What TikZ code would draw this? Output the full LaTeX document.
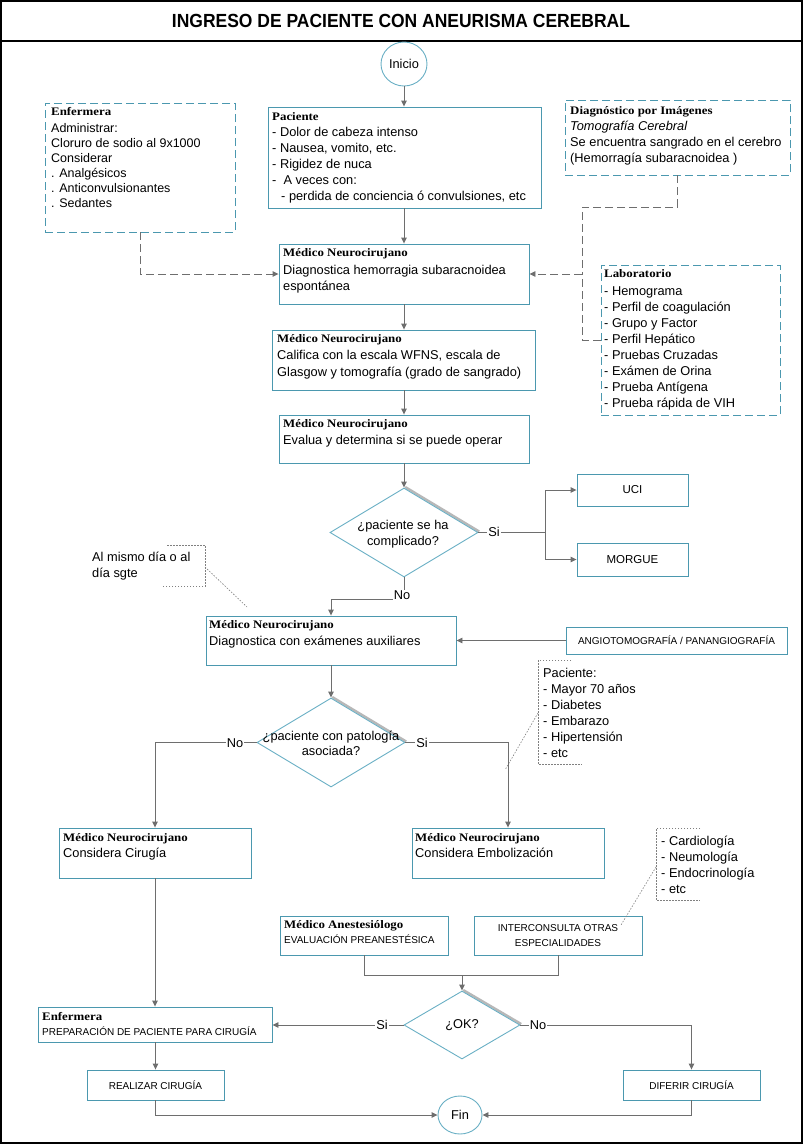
\documentclass[tikz,border=0pt]{standalone}
\usepackage{fontspec}
\setmainfont{Liberation Sans}
\newfontfamily\hdrfont[FakeStretch=1.12]{Liberation Serif}
\newfontfamily\titlefont[FakeStretch=0.92]{Liberation Sans}
\usetikzlibrary{arrows.meta,shapes.geometric,fit,calc}
\definecolor{tealA}{RGB}{75,152,175}
\definecolor{tealB}{RGB}{105,175,196}
\definecolor{lineG}{RGB}{110,110,110}
\newcommand\hd[1]{{\hdrfont\bfseries\fontsize{11.5}{16}\selectfont #1}}
\begin{document}
\begin{tikzpicture}[x=1pt,y=-1pt,
  box/.style={draw=tealA, line width=0.9pt, inner sep=0pt},
  dbox/.style={draw=tealA, line width=0.9pt, inner sep=0pt, dash pattern=on 8pt off 4pt},
  arr/.style={draw=lineG, line width=0.9pt, -{Triangle[length=6pt,width=5.5pt]}},
  ln/.style={draw=lineG, line width=0.9pt},
  darr/.style={draw=lineG, line width=0.9pt, dash pattern=on 8pt off 4pt, -{Triangle[length=6pt,width=5.5pt]}},
  dln/.style={draw=lineG, line width=0.9pt, dash pattern=on 8pt off 4pt},
  dotl/.style={draw=gray, line width=0.6pt, dash pattern=on 1.5pt off 1.5pt},
  tb/.style={inner sep=0pt, anchor=base west, font=\fontsize{12.8}{16}\selectfont},
  ctext/.style={inner sep=0pt, align=center},
  dia/.style={diamond, draw=tealB, line width=0.9pt, inner sep=0pt},
  lab/.style={fill=white, inner sep=1pt, font=\fontsize{12.8}{14}\selectfont},
  shade/.style={draw=black!28, line width=2.4pt},
]
\useasboundingbox (0,0) rectangle (803,1144);
% frame
\draw[line width=1.4pt] (1,1) rectangle (802,1143);
\draw[line width=1.2pt] (1,41) -- (802,41);
\node[font=\titlefont\bfseries\fontsize{19}{22}\selectfont] (title) at (401,20.5) {INGRESO DE PACIENTE CON ANEURISMA CEREBRAL};

% start
\node[ellipse, draw=tealB, line width=0.9pt, minimum width=46pt, minimum height=44pt, inner sep=0pt, font=\fontsize{12.8}{14}\selectfont] (ini) at (404,64) {Inicio};

% boxes
\node[box, fit={(268,107) (541,208)}] (pac) {};
\node[dbox, fit={(45,103) (235,232)}] (enf1) {};
\node[dbox, fit={(565,100) (790,175)}] (diag) {};
\node[dbox, fit={(601,265) (780,415)}] (lab) {};
\node[box, fit={(279,244) (529,304)}] (dx1) {};
\node[box, fit={(272,330) (535,390)}] (cal) {};
\node[box, fit={(279,415) (529,463)}] (eva) {};
\node[box, fit={(577,474) (688,506)}] (uci) {};
\node[font=\fontsize{11.5}{14}\selectfont, inner sep=0pt] (ucit) at (uci.center) {UCI};
\node[box, fit={(577,543) (688,576)}] (mor) {};
\node[font=\fontsize{11.5}{14}\selectfont, inner sep=0pt] (mort) at (mor.center) {MORGUE};
\node[box, fit={(206,616) (456,665)}] (dx4) {};
\node[box, fit={(566,627) (787,654)}] (ang) {};
\node[inner sep=0pt, font=\fontsize{10}{12}\selectfont] (angt) at (ang.center) {ANGIOTOMOGRAFÍA / PANANGIOGRAFÍA};
\node[box, fit={(59,828) (251,878)}] (cir) {};
\node[box, fit={(412,828) (604,878)}] (emb) {};
\node[box, fit={(280,916) (448,955)}] (ane) {};
\node[box, fit={(474,916) (642,955)}] (int) {};
\node[ctext, font=\fontsize{10}{14.5}\selectfont] (intt) at (int.center) {INTERCONSULTA OTRAS\\ESPECIALIDADES};
\node[box, fit={(38,1007) (272,1042)}] (enf2) {};
\node[box, fit={(87,1070) (224,1100)}] (real) {};
\node[inner sep=0pt, font=\fontsize{10}{12}\selectfont] (realt) at (real.center) {REALIZAR CIRUGÍA};
\node[box, fit={(623,1070) (760,1100)}] (dif) {};
\node[inner sep=0pt, font=\fontsize{10}{12}\selectfont] (dift) at (dif.center) {DIFERIR CIRUGÍA};
\node[ellipse, draw=tealB, line width=0.9pt, minimum width=44pt, minimum height=38pt, inner sep=0pt, font=\fontsize{12.8}{14}\selectfont] (fin) at (460,1115) {Fin};

% diamonds
\draw[shade] (405.2,487) -- (479.2,531.5);
\node[dia, minimum width=148pt, minimum height=89pt] (d1) at (404,532.5) {};
\node[ctext, font=\fontsize{12.8}{16}\selectfont] (d1t) at (403,534) {¿paciente se ha\\complicado?};
\draw[shade] (332.2,697) -- (406.2,741.5);
\node[dia, minimum width=148pt, minimum height=89pt] (d2) at (331,742.5) {};
\node[ctext, font=\fontsize{12.8}{15}\selectfont] (d2t) at (331,743) {¿paciente con patología\\asociada?};
\draw[shade] (463.2,990) -- (521.2,1024);
\node[dia, minimum width=116pt, minimum height=68pt] (d3) at (462,1025) {};
\node[inner sep=0pt, font=\fontsize{12.8}{14}\selectfont] (d3t) at (462,1025) {¿OK?};

% texts in boxes
\node[tb] (pact) at (272,120) {\parbox[t]{300pt}{\hd{Paciente}\\- Dolor de cabeza intenso\\- Nausea, vomito, etc.\\- Rigidez de nuca\\-\ \ A veces con:\\\hspace*{9pt}- perdida de conciencia ó convulsiones, etc}};
\node[tb] (enf1t) at (51,115) {\parbox[t]{200pt}{\fontsize{12.5}{15}\selectfont\hd{Enfermera}\\[2pt]Administrar:\\Cloruro de sodio al 9x1000\\Considerar\\. Analgésicos\\. Anticonvulsionantes\\. Sedantes}};
\node[tb] (diagt) at (570,114) {\parbox[t]{230pt}{\hd{Diagnóstico por Imágenes}\\\textit{Tomografía Cerebral}\\Se encuentra sangrado en el cerebro\\(Hemorragía subaracnoidea )}};
\node[tb] (labt) at (604,277) {\parbox[t]{180pt}{\hd{Laboratorio}\\[2pt]- Hemograma\\- Perfil de coagulación\\- Grupo y Factor\\- Perfil Hepático\\- Pruebas Cruzadas\\- Exámen de Orina\\- Prueba Antígena\\- Prueba rápida de VIH}};
\node[tb] (dx1t) at (283,256) {\parbox[t]{250pt}{\hd{Médico Neurocirujano}\\[2pt]Diagnostica hemorragia subaracnoidea\\espontánea}};
\node[tb] (calt) at (277,342) {\parbox[t]{260pt}{\fontsize{12.8}{16.6}\selectfont\hd{Médico Neurocirujano}\\[1pt]Califica con la escala WFNS, escala de\\Glasgow y tomografía (grado de sangrado)}};
\node[tb] (evat) at (283,427) {\parbox[t]{250pt}{\hd{Médico Neurocirujano}\\[1pt]Evalua y determina si se puede operar}};
\node[tb] (dx4t) at (209,628) {\parbox[t]{250pt}{\hd{Médico Neurocirujano}\\[1pt]Diagnostica con exámenes auxiliares}};
\node[tb] (cirt) at (63,841) {\parbox[t]{190pt}{\hd{Médico Neurocirujano}\\Considera Cirugía}};
\node[tb] (embt) at (415,841) {\parbox[t]{190pt}{\hd{Médico Neurocirujano}\\Considera Embolización}};
\node[tb] (anet) at (284,928) {\parbox[t]{170pt}{\fontsize{10}{15}\selectfont\hd{Médico Anestesiólogo}\\EVALUACIÓN PREANESTÉSICA}};
\node[tb] (enf2t) at (42,1020) {\parbox[t]{240pt}{\fontsize{10}{15}\selectfont\hd{Enfermera}\\PREPARACIÓN DE PACIENTE PARA CIRUGÍA}};

% notes
\node[tb] (n1t) at (92,561) {\parbox[t]{120pt}{Al mismo día o al\\día sgte}};
\draw[dotl] (167,545) -- (205,545) -- (205,586) -- (162,586);
\coordinate (n1a) at (205,567); \coordinate (n1b) at (247,607);
\draw[dotl] (n1a) -- (n1b);
\node[tb] (n2t) at (543,677) {\parbox[t]{120pt}{Paciente:\\- Mayor 70 años\\- Diabetes\\- Embarazo\\- Hipertensión\\- etc}};
\draw[dotl] (571,660) -- (538,660) -- (538,764) -- (582,764);
\coordinate (n2a) at (538,713); \coordinate (n2b) at (505,770);
\draw[dotl] (n2a) -- (n2b);
\node[tb] (n3t) at (661,845) {\parbox[t]{120pt}{- Cardiología\\- Neumología\\- Endocrinología\\- etc}};
\draw[dotl] (700,828) -- (656,828) -- (656,900) -- (700,900);
\coordinate (n3a) at (656,867); \coordinate (n3b) at (621,925);
\draw[dotl] (n3a) -- (n3b);

% main connectors
\draw[arr] (ini) -- (pac.north -| ini);
\draw[arr] (pac.south -| dx1.north) -- (dx1.north);
\draw[arr] (dx1.south) -- (cal.north -| dx1.south);
\draw[arr] (cal.south -| eva.north) -- (eva.north);
\draw[arr] (eva.south) -- (d1.north);
\coordinate (sj) at (545,532.5);
\draw[ln] (d1.east) -- (sj);
\node[lab] (si1) at (494,532) {Si};
\draw[arr] (sj) |- (uci.west);
\draw[arr] (sj) |- (mor.west);
\coordinate (nj) at (404,599);
\draw[arr] (d1.south) -- (nj) -| (dx4.north);
\node[lab, inner sep=0.5pt] (no1) at (402,595) {No};
\draw[arr] (ang.west) -- (dx4.east |- ang.west);
\draw[arr] (dx4.south) -- (d2.north);
\draw[arr] (d2.west) -| (cir.north);
\node[lab] (no2) at (235,743) {No};
\draw[arr] (d2.east) -| (emb.north);
\node[lab] (si2) at (422,743) {Si};
\draw[arr] (cir.south) -- (enf2.north -| cir.south);
\coordinate (mj) at (462,975);
\draw[ln] (ane.south) |- (mj);
\draw[ln] (int.south) |- (mj);
\draw[arr] (mj) -- (d3.north);
\draw[arr] (d3.west) -- (enf2.east |- d3.west);
\node[lab] (si3) at (382,1025) {Si};
\draw[arr] (d3.east) -| (dif.north);
\node[lab] (no3) at (538,1025) {No};
\draw[arr] (enf2.south -| real.north) -- (real.north);
\draw[arr] (real.south) |- (fin.west);
\draw[arr] (dif.south) |- (fin.east);

% dashed connectors
\draw[darr] (enf1.south) |- (dx1.west);
\coordinate (dj1) at (582,207);
\coordinate (dj2) at (582,274);
\draw[dln] (diag.south) |- (dj1) -- (dj2);
\draw[dln] (lab.west) -| (dj2);
\draw[darr] (dj2) -- (dx1.east);
\end{tikzpicture}
\end{document}
